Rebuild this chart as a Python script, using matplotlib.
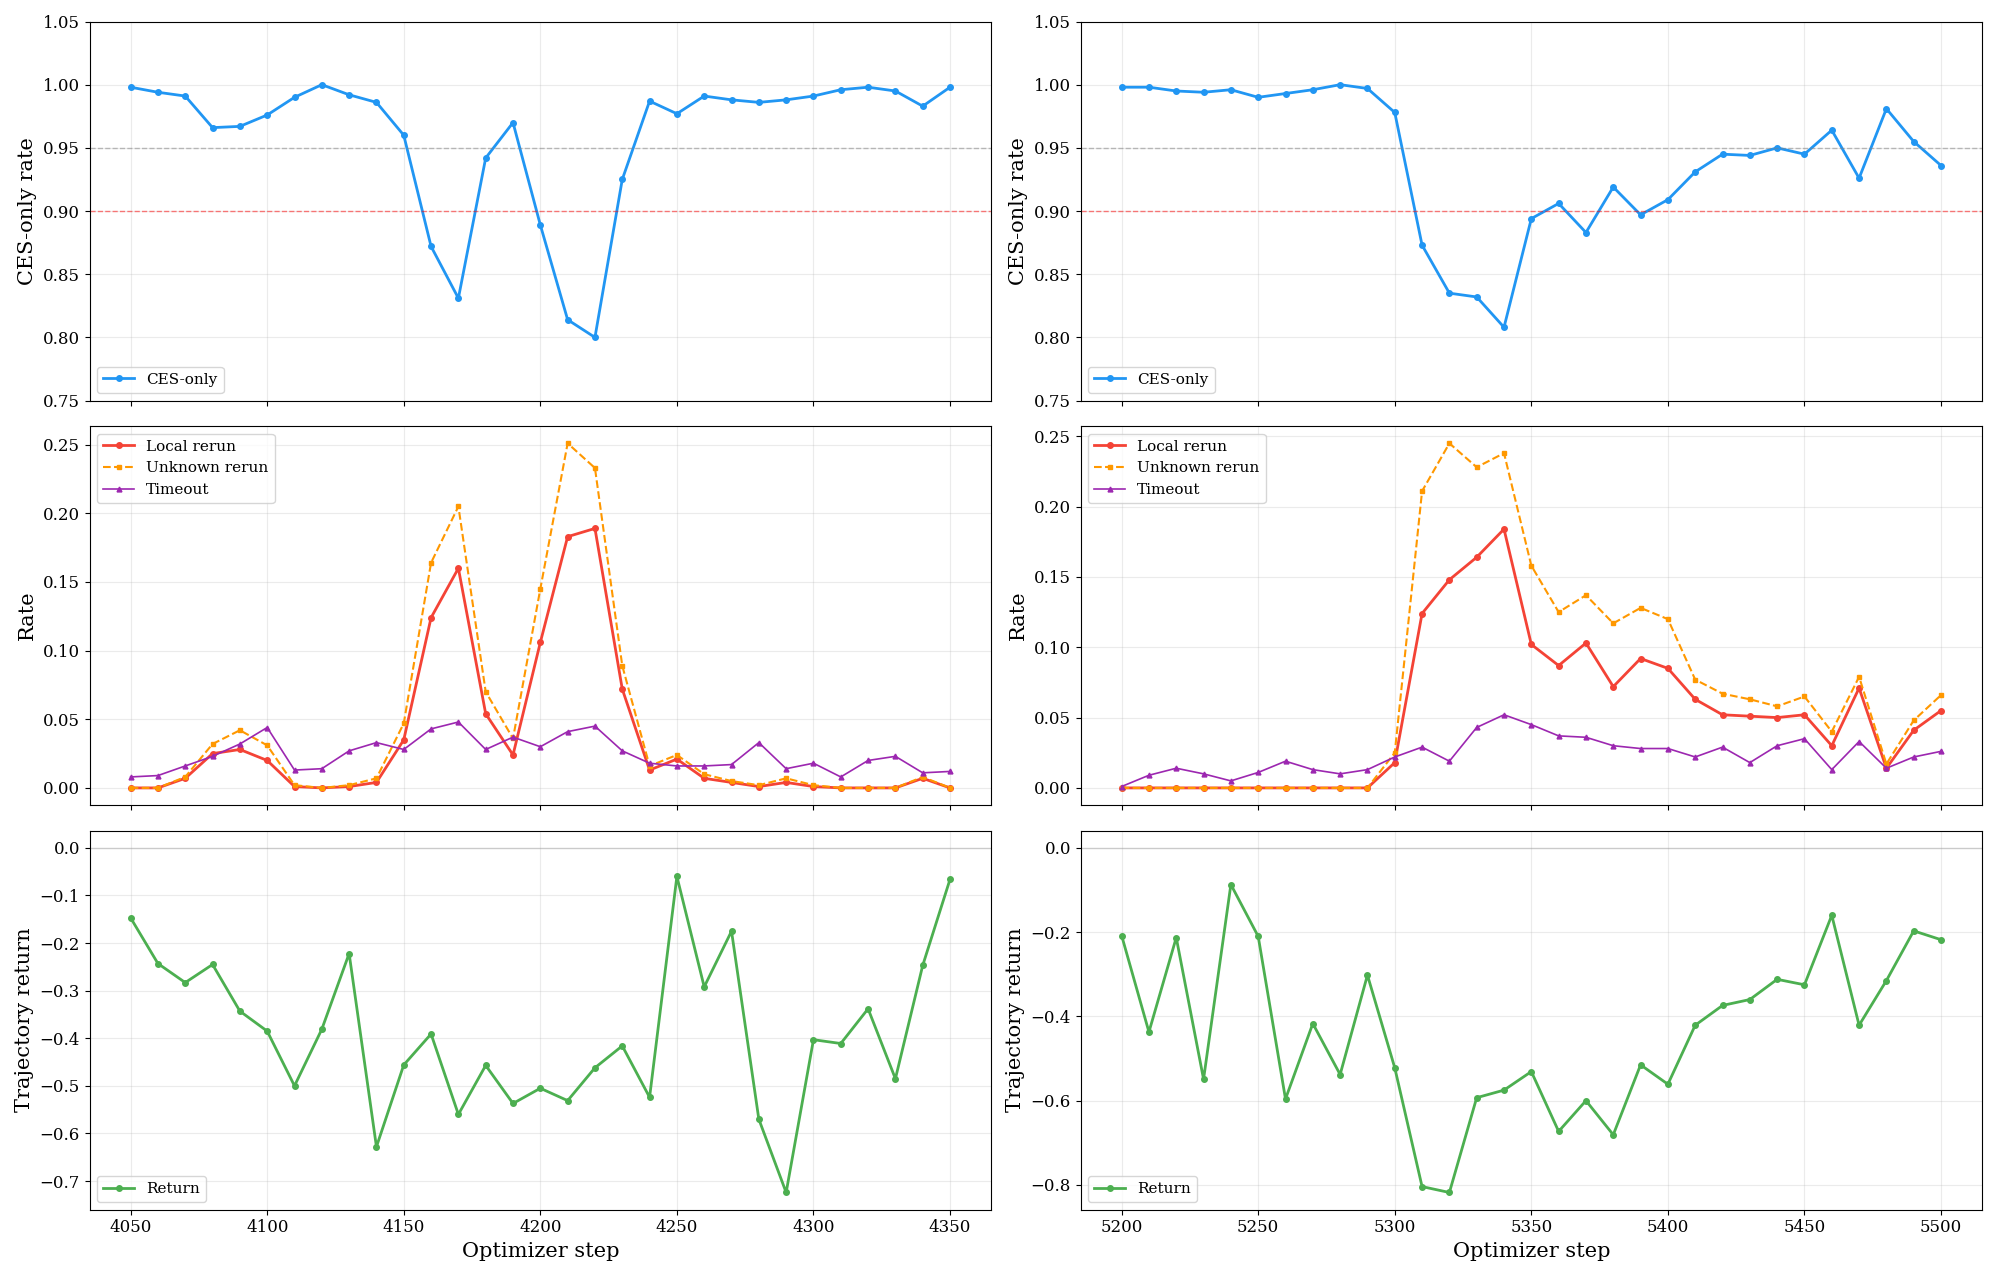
import numpy as np
import matplotlib
matplotlib.use("Agg")
import matplotlib.pyplot as plt
from matplotlib.ticker import MultipleLocator

plt.rcParams['font.family'] = 'DejaVu Serif'

steps_a = list(range(4050, 4351, 10))
steps_b = list(range(5200, 5501, 10))

ces_a = [0.998, 0.994, 0.991, 0.966, 0.967, 0.976, 0.990, 1.000, 0.992, 0.986, 0.960, 0.872, 0.831, 0.942, 0.970, 0.889,
         0.814, 0.800, 0.925, 0.987, 0.977, 0.991, 0.988, 0.986, 0.988, 0.991, 0.996, 0.998, 0.995, 0.983, 0.998]
local_a = [0, 0, 0.007, 0.025, 0.028, 0.020, 0.001, 0, 0.001, 0.004, 0.035, 0.124, 0.160, 0.054, 0.024, 0.106,
           0.183, 0.189, 0.072, 0.013, 0.021, 0.007, 0.004, 0.001, 0.004, 0.001, 0, 0, 0, 0.007, 0]
unknown_a = [0, 0, 0.008, 0.032, 0.042, 0.031, 0.002, 0, 0.002, 0.007, 0.047, 0.164, 0.205, 0.070, 0.036, 0.145,
             0.251, 0.233, 0.089, 0.016, 0.024, 0.010, 0.005, 0.002, 0.007, 0.002, 0, 0, 0, 0.008, 0]
timeout_a = [0.008, 0.009, 0.016, 0.023, 0.032, 0.044, 0.013, 0.014, 0.027, 0.033, 0.028, 0.043, 0.048, 0.028, 0.037, 0.030,
             0.041, 0.045, 0.027, 0.018, 0.016, 0.016, 0.017, 0.033, 0.014, 0.018, 0.008, 0.020, 0.023, 0.011, 0.012]
return_a = [-0.147, -0.243, -0.283, -0.245, -0.343, -0.385, -0.500, -0.381, -0.222, -0.628, -0.456, -0.391, -0.560, -0.457,
            -0.537, -0.505, -0.531, -0.462, -0.416, -0.524, -0.060, -0.292, -0.175, -0.570, -0.724, -0.403, -0.411, -0.338,
            -0.485, -0.247, -0.066]

ces_b = [0.998, 0.998, 0.995, 0.994, 0.996, 0.990, 0.993, 0.996, 1.000, 0.997, 0.978, 0.873, 0.835, 0.832, 0.808, 0.894,
         0.906, 0.883, 0.919, 0.897, 0.909, 0.931, 0.945, 0.944, 0.950, 0.945, 0.964, 0.926, 0.981, 0.955, 0.936]
local_b = [0] * 10 + [0.018, 0.124, 0.148, 0.164, 0.184, 0.102, 0.087, 0.103, 0.072, 0.092, 0.085, 0.063, 0.052, 0.051,
                      0.050, 0.052, 0.030, 0.071, 0.014, 0.041, 0.055]
unknown_b = [0] * 10 + [0.025, 0.211, 0.245, 0.228, 0.238, 0.158, 0.125, 0.137, 0.117, 0.128, 0.120, 0.077, 0.067, 0.063,
                        0.058, 0.065, 0.040, 0.079, 0.017, 0.048, 0.066]
timeout_b = [0.001, 0.009, 0.014, 0.010, 0.005, 0.011, 0.019, 0.013, 0.010, 0.013, 0.022, 0.029, 0.019, 0.043, 0.052, 0.045,
             0.037, 0.036, 0.030, 0.028, 0.028, 0.022, 0.029, 0.018, 0.030, 0.035, 0.013, 0.033, 0.014, 0.022, 0.026]
return_b = [-0.208, -0.437, -0.213, -0.549, -0.087, -0.210, -0.596, -0.417, -0.538, -0.302, -0.522, -0.804, -0.818, -0.593,
            -0.575, -0.531, -0.673, -0.600, -0.681, -0.515, -0.561, -0.421, -0.374, -0.360, -0.312, -0.325, -0.160, -0.421,
            -0.315, -0.197, -0.218]

fig, axes = plt.subplots(3, 2, figsize=(19.97, 12.76), dpi=100, sharex='col')

cols = [(steps_a, ces_a, local_a, unknown_a, timeout_a, return_a),
        (steps_b, ces_b, local_b, unknown_b, timeout_b, return_b)]

for c, (x, ces, loc, unk, tmo, ret) in enumerate(cols):
    ax = axes[0, c]
    ax.plot(x, ces, '-o', color='#2196F3', lw=2, ms=4, label='CES-only')
    ax.axhline(0.95, color='gray', ls='--', lw=1, alpha=0.5)
    ax.axhline(0.90, color='red', ls='--', lw=1, alpha=0.5)
    ax.set_ylim(0.75, 1.05)
    ax.set_ylabel('CES-only rate', fontsize=15)
    ax.legend(loc='lower left', fontsize=11)

    ax = axes[1, c]
    ax.plot(x, loc, '-o', color='#F44336', lw=2, ms=4, label='Local rerun')
    ax.plot(x, unk, '--s', color='#FF9800', lw=1.5, ms=3.5, label='Unknown rerun')
    ax.plot(x, tmo, '-^', color='#9C27B0', lw=1.2, ms=3.5, label='Timeout')
    ax.set_ylabel('Rate', fontsize=15)
    ax.legend(loc='upper left', fontsize=11)

    ax = axes[2, c]
    ax.plot(x, ret, '-o', color='#4CAF50', lw=2, ms=4, label='Return')
    ax.axhline(0, color='gray', lw=1, alpha=0.3)
    ax.set_ylabel('Trajectory return', fontsize=15)
    ax.set_xlabel('Optimizer step', fontsize=15)
    ax.legend(loc='lower left', fontsize=11)

axes[2, 1].yaxis.set_major_locator(MultipleLocator(0.2))

for ax in axes.flat:
    ax.grid(True, alpha=0.25)
    ax.tick_params(labelsize=12)

plt.tight_layout()
plt.savefig('out.png')
